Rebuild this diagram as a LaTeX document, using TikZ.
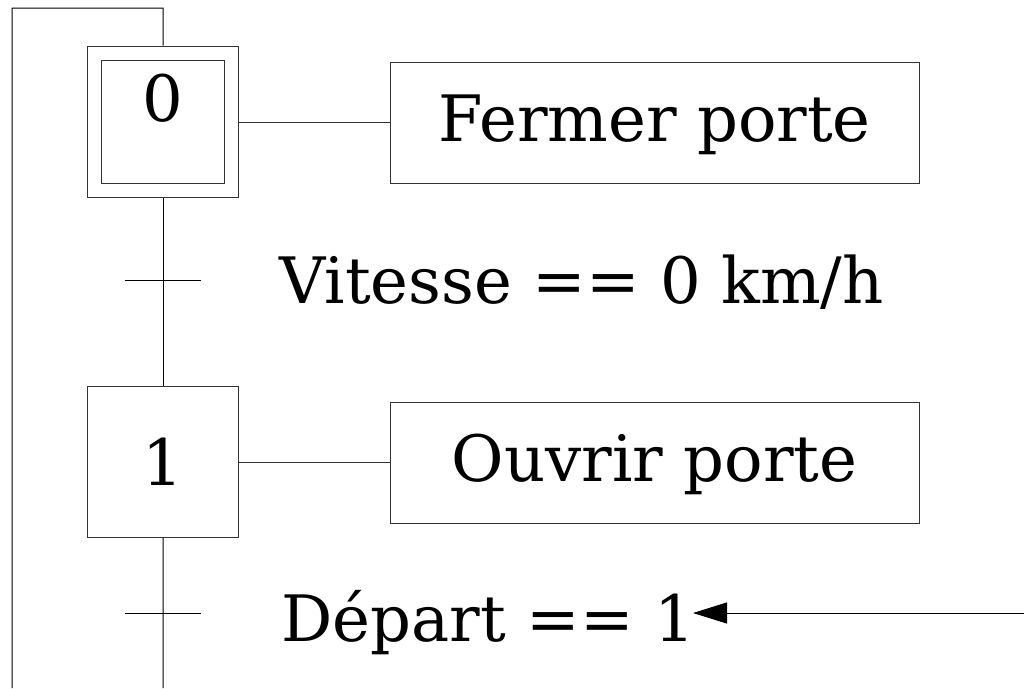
\documentclass[tikz,border=0pt]{standalone}
\usepackage{fontspec}
\setmainfont{DejaVu Serif}
\usetikzlibrary{arrows.meta}
\begin{document}
\begin{tikzpicture}[x=1pt,y=-1pt,
  every path/.style={line width=1pt},
  stepbox/.style={draw=black!80,line width=1pt,minimum width=151.5pt,minimum height=151pt,inner sep=0pt,font=\fontsize{64}{76}\selectfont},
  innerbox/.style={draw=black!80,line width=1pt,minimum width=123.5pt,minimum height=122.5pt,inner sep=0pt},
  actbox/.style={draw=black!80,line width=1pt,minimum width=529pt,minimum height=121pt,inner sep=0pt,text height=46pt,text depth=9pt,font=\fontsize{64}{76}\selectfont},
  lbl/.style={inner sep=0pt,anchor=base west,font=\fontsize{64}{76}\selectfont},
  link/.style={draw=black!80,line width=1pt},
  trans/.style={draw=black,line width=1pt}]
\useasboundingbox (0,0) rectangle (1024,688);
% steps
\node[stepbox] (s0) at (163.2,121.6) {};
\node[innerbox] (s0i) at (163.2,121.8) {};
\node[inner sep=0pt,anchor=base,font=\fontsize{64}{76}\selectfont] (s0t) at (163,121) {0};
\node[stepbox] (s1) at (163.2,461.7) {1};
% actions
\node[actbox] (a0) at (654.5,122.5) {Fermer porte};
\node[actbox] (a1) at (654.5,462.7) {Ouvrir porte};
\draw[link] (s0.east |- a0.west) -- (a0.west);
\draw[link] (s1.east |- a1.west) -- (a1.west);
% transitions
\coordinate (t1) at (163,280);
\coordinate (t2) at (163,613);
\coordinate (t1l) at (125,280); \coordinate (t1r) at (201,280);
\coordinate (t2l) at (125,613); \coordinate (t2r) at (201,613);
\draw[trans] (s0.south) -- (s1.north);
\draw[trans] (t1l) -- (t1r);
\coordinate (bot) at (163,688);
\draw[trans] (s1.south) -- (bot);
\draw[trans] (t2l) -- (t2r);
\node[lbl] (c1) at (279,303) {Vitesse == 0 km/h};
\node[lbl] (c2) at (281,641) {Départ == 1};
% loop back
\coordinate (botl) at (12,688);
\coordinate (top) at (163,8);
\draw[trans] (botl) |- (top) -- (s0.north);
% external input arrow
\coordinate (in) at (1024,613);
\coordinate (tip) at (693,613);
\draw[trans,-{Triangle[length=34pt,width=21pt]}] (in) -- (tip);
\end{tikzpicture}
\end{document}
